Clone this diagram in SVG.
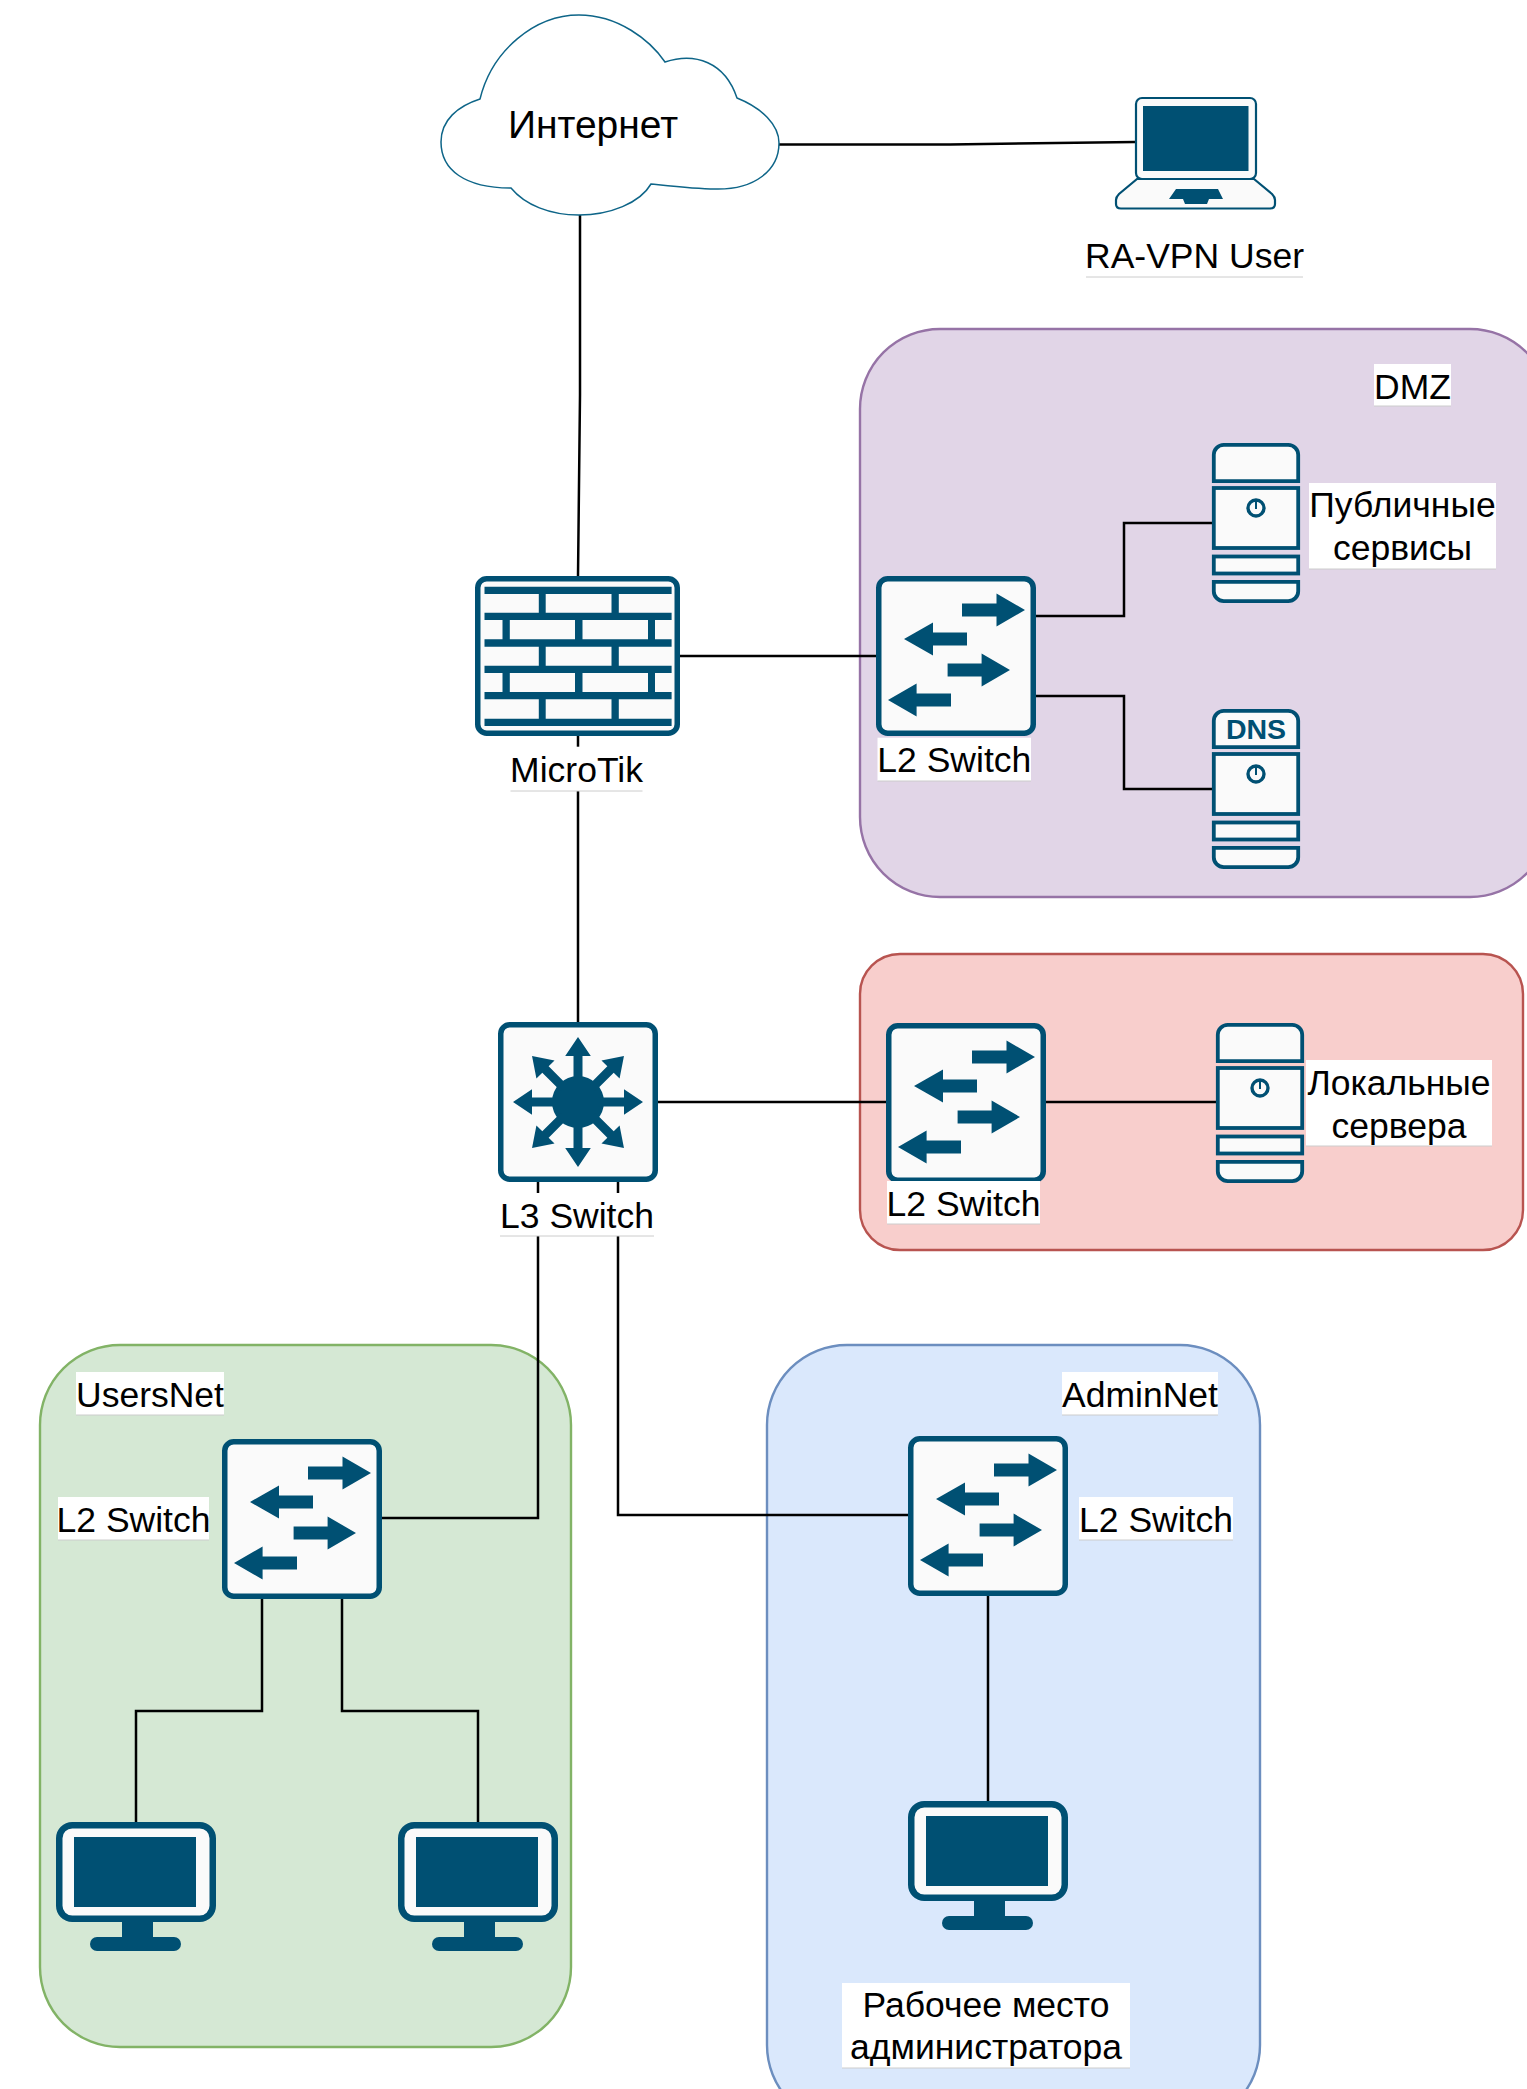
<svg xmlns="http://www.w3.org/2000/svg" xmlns:xlink="http://www.w3.org/1999/xlink" width="1527" height="2089" viewBox="0 0 1527 2089">
<style>
text{font-family:"Liberation Sans",Arial,"Noto Sans",sans-serif;font-size:35.5px;fill:#000;text-anchor:middle}
.lb{fill:#fff}
.ul{stroke:#ccc;stroke-width:1;fill:none}
.zone{stroke-width:2.4}
.cn{fill:none;stroke:#000;stroke-width:2.5}
.fr{fill:#fafafa;stroke:#005073;stroke-width:5.5}
.ic{fill:#005073;stroke:none}
.sv{fill:#fafafa;stroke:#005073;stroke-width:3.8}
</style>
<defs>
<g id="sw">
<rect class="fr" x="2.75" y="2.75" width="154.5" height="154.5" rx="9"/>
<path class="ic" d="M86,27.5H120.5V17.5L149,34L120.5,50.5V40.5H86Z"/>
<path class="ic" d="M91,56.5H57V46.5L28,63L57,79.5V69.5H91Z"/>
<path class="ic" d="M71.6,87.5H105.6V77.5L134,94L105.6,110.5V100.5H71.6Z"/>
<path class="ic" d="M75,117.5H40.6V107.5L12,124L40.6,140.5V130.5H75Z"/>
</g>
<g id="srv">
<path class="sv" d="M1.8,38.2V12A10,10 0 0 1 11.8,1.8H76.2A10,10 0 0 1 86.2,12V38.2Z"/>
<rect class="sv" x="1.8" y="45" width="84.4" height="60"/>
<rect class="sv" x="1.8" y="113.5" width="84.4" height="17"/>
<path class="sv" d="M1.8,138.8H86.2V148A10,10 0 0 1 76.2,158.2H11.8A10,10 0 0 1 1.8,148Z"/>
</g>
<g id="pwr"><circle cx="44" cy="65" r="8" fill="none" stroke="#005073" stroke-width="3.4"/><path d="M44,58V66" stroke="#005073" stroke-width="2" fill="none"/></g>
<path id="ray" class="ic" d="M-4.5,-20V-46H-12.8L0,-65L12.8,-46H4.5V-20Z"/>
<g id="pc">
<rect x="3.25" y="3.25" width="153.5" height="93.5" rx="13" fill="#fafafa" stroke="#005073" stroke-width="6.5"/>
<rect class="ic" x="18" y="15" width="122" height="70"/>
<rect class="ic" x="66" y="98" width="31" height="20"/>
<rect class="ic" x="34" y="115" width="91" height="14" rx="7"/>
</g>
</defs>
<g id="zones">
<rect id="zone-dmz" class="zone" x="860" y="329" width="690" height="568" rx="80" fill="#e1d5e7" stroke="#9673a6"/>
<rect id="zone-servers" class="zone" x="860" y="954" width="663" height="296" rx="40" fill="#f8cecc" stroke="#b85450"/>
<rect id="zone-users" class="zone" x="40" y="1345" width="531" height="702" rx="80" fill="#d5e8d4" stroke="#82b366"/>
<rect id="zone-admin" class="zone" x="767" y="1345" width="493" height="780" rx="80" fill="#dae8fc" stroke="#6c8ebf"/>
</g>
<g id="connectors">
<path class="cn" d="M779,144.500H950L1135,142"/>
<path class="cn" d="M580,215V395L578,576"/>
<path class="cn" d="M578,736V1022"/>
<path class="cn" d="M680,656H876"/>
<path class="cn" d="M1036,616H1124V523H1212"/>
<path class="cn" d="M1036,696H1124V789H1212"/>
<path class="cn" d="M658,1102H886"/>
<path class="cn" d="M1046,1102H1216"/>
<path class="cn" d="M538,1182V1518H382"/>
<path class="cn" d="M618,1182V1515H909"/>
<path class="cn" d="M262,1598V1711H136V1822"/>
<path class="cn" d="M342,1598V1711H478V1822"/>
<path class="cn" d="M988,1595V1801"/>
</g>
<g id="internet">
<path d="M480,99C492,50 535,15 579,15C618,15 650,40 665,62C695,52 725,62 737,98C762,108 779,125 779,143C779,170 755,190 715,189C695,189 670,186 651,184C640,203 610,215 579,215C550,215 525,205 511,188C465,188 441,170 441,142C441,120 458,106 480,99Z" fill="#fff" stroke="#0e6588" stroke-width="1.5"/>
<text x="593" y="138" style="font-size:39px">Интернет</text>
</g>
<g id="laptop">
<path d="M1137,179L1119,194Q1116,197 1116,200V204Q1116,208.500 1121,208.500H1270Q1275,208.500 1275,204V200Q1275,197 1272,194L1254,179Z" fill="#fafafa" stroke="#005073" stroke-width="2.2"/>
<rect x="1136" y="98" width="120" height="81" rx="6" fill="#fafafa" stroke="#005073" stroke-width="2.2"/>
<rect class="ic" x="1143" y="106" width="105.500" height="65"/>
<path class="ic" d="M1176,189H1218L1223,199H1209L1207,204H1185L1183,199H1169Z"/>
</g>
<g id="firewall">
<rect class="fr" x="477.750" y="578.750" width="199.500" height="154.500" rx="9"/>
<path class="ic" d="M484.500,586.700H671.600V594H618.800V612.700H671.600V620H655V639.300H671.600V646.700H618.800V665.700H671.600V673H655V692H671.600V699.300H618.800V718.700H671.600V726H484.500V718.700H538.800V699.300H484.500V692H502.500V673H484.500V665.700H538.800V646.700H484.500V639.300H502.500V620H484.500V612.700H538.800V594H484.500ZM545.700,594V612.700H611.500V594ZM509.800,620V639.300H575V620ZM582.500,620V639.300H648V620ZM545.700,646.700V665.700H611.500V646.700ZM509.800,673V692H575V673ZM582.500,673V692H648V673ZM545.700,699.300V718.700H611.500V699.300Z" fill-rule="evenodd"/>
</g>
<g id="switch-dmz"><use href="#sw" x="876" y="576"/></g>
<g id="server-public"><use href="#srv" x="1212" y="443"/><use href="#pwr" x="1212" y="443"/></g>
<g id="server-dns"><use href="#srv" x="1212" y="709"/><use href="#pwr" x="1212" y="709"/>
<text x="1256" y="739" style="font-size:28.5px;font-weight:bold;fill:#005073">DNS</text></g>
<g id="l3-switch">
<rect class="fr" x="500.750" y="1024.750" width="154.500" height="154.500" rx="9"/>
<circle class="ic" cx="578" cy="1102" r="26"/>
<use href="#ray" transform="translate(578 1102)"/>
<use href="#ray" transform="translate(578 1102) rotate(45)"/>
<use href="#ray" transform="translate(578 1102) rotate(90)"/>
<use href="#ray" transform="translate(578 1102) rotate(135)"/>
<use href="#ray" transform="translate(578 1102) rotate(180)"/>
<use href="#ray" transform="translate(578 1102) rotate(225)"/>
<use href="#ray" transform="translate(578 1102) rotate(270)"/>
<use href="#ray" transform="translate(578 1102) rotate(315)"/>
</g>
<g id="switch-servers"><use href="#sw" x="886" y="1023"/></g>
<g id="server-local"><use href="#srv" x="1216" y="1023"/><use href="#pwr" x="1216" y="1023"/></g>
<g id="switch-users"><use href="#sw" x="222" y="1439"/></g>
<g id="pc-user-1"><use href="#pc" x="56" y="1822"/></g>
<g id="pc-user-2"><use href="#pc" x="398" y="1822"/></g>
<g id="switch-admin"><use href="#sw" x="908" y="1436"/></g>
<g id="pc-admin"><use href="#pc" x="908" y="1801"/></g>
<g id="labels">
<g id="label-ra"><rect class="lb" x="1086" y="233" width="217" height="44"/><path class="ul" d="M1086,277H1303"/><text x="1194.500" y="268">RA-VPN User</text></g>
<g id="label-dmz"><rect class="lb" x="1374" y="364" width="77" height="42"/><path class="ul" d="M1374,406H1451"/><text x="1412.500" y="399">DMZ</text></g>
<g id="label-public"><rect class="lb" x="1309" y="483" width="187" height="86"/><path class="ul" d="M1309,569H1496"/><text x="1402.500" y="517">Публичные</text><text x="1402.500" y="560">сервисы</text></g>
<g id="label-microtik"><rect class="lb" x="510.500" y="746.700" width="132" height="44.300"/><path class="ul" d="M510.500,791H642.500"/><text x="576.500" y="781.700">MicroTik</text></g>
<g id="label-l2-dmz"><rect class="lb" x="877.500" y="737.700" width="153.500" height="43.300"/><path class="ul" d="M877.500,781H1031"/><text x="954.300" y="772">L2 Switch</text></g>
<g id="label-l3"><rect class="lb" x="500" y="1193" width="154" height="43"/><path class="ul" d="M500,1236H654"/><text x="577" y="1228">L3 Switch</text></g>
<g id="label-l2-servers"><rect class="lb" x="887" y="1181" width="153" height="43"/><path class="ul" d="M887,1224H1040"/><text x="963.500" y="1215.500">L2 Switch</text></g>
<g id="label-local"><rect class="lb" x="1306" y="1060" width="186" height="86"/><path class="ul" d="M1306,1146H1492"/><text x="1399" y="1095">Локальные</text><text x="1399" y="1138">сервера</text></g>
<g id="label-usersnet"><rect class="lb" x="76" y="1372" width="148" height="43"/><path class="ul" d="M76,1415H224"/><text x="150" y="1406.500">UsersNet</text></g>
<g id="label-adminnet"><rect class="lb" x="1062" y="1372" width="156" height="43"/><path class="ul" d="M1062,1415H1218"/><text x="1140" y="1406.500">AdminNet</text></g>
<g id="label-l2-users"><rect class="lb" x="58" y="1497" width="151" height="43"/><path class="ul" d="M58,1540H209"/><text x="133.500" y="1531.500">L2 Switch</text></g>
<g id="label-l2-admin"><rect class="lb" x="1079" y="1497" width="154" height="43"/><path class="ul" d="M1079,1540H1233"/><text x="1156" y="1531.500">L2 Switch</text></g>
<g id="label-workstation"><rect class="lb" x="842" y="1983" width="288" height="85"/><path class="ul" d="M842,2068H1130"/><text x="986" y="2017">Рабочее место</text><text x="986" y="2059">администратора</text></g>
</g>
</svg>
